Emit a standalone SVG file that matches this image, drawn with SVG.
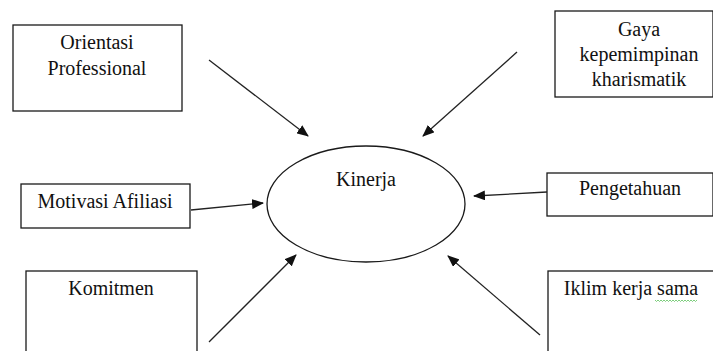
<svg xmlns="http://www.w3.org/2000/svg" width="713" height="351" viewBox="0 0 713 351">
  <style>
    .box { fill: #fff; stroke: #1a1a1a; stroke-width: 1.3; }
    .lbl { font-family: "Liberation Serif", "Times New Roman", serif; font-size: 20px; fill: #111; text-anchor: middle; }
    .con { stroke: #222; stroke-width: 1.3; fill: none; marker-end: url(#head); }
  </style>
  <defs>
    <marker id="head" viewBox="0 0 12 10" refX="11" refY="5" markerWidth="12" markerHeight="10" markerUnits="userSpaceOnUse" orient="auto">
      <path d="M0,0 L12,5 L0,10 Z" fill="#111"/>
    </marker>
  </defs>
  <rect width="713" height="351" fill="#fff"/>

  <g id="kinerja">
    <ellipse cx="366" cy="204" rx="99" ry="58" fill="#fff" stroke="#1a1a1a" stroke-width="1.3"/>
    <text class="lbl" x="366" y="186">Kinerja</text>
  </g>

  <g id="orientasi">
    <rect class="box" x="13" y="25" width="169" height="86"/>
    <text class="lbl" x="97" y="49">Orientasi</text>
    <text class="lbl" x="97" y="75">Professional</text>
  </g>

  <g id="gaya">
    <rect class="box" x="555" y="11" width="158" height="86"/>
    <text class="lbl" x="639" y="36">Gaya</text>
    <text class="lbl" x="639" y="61">kepemimpinan</text>
    <text class="lbl" x="639" y="86">kharismatik</text>
  </g>

  <g id="motivasi">
    <rect class="box" x="21" y="184" width="169" height="44"/>
    <text class="lbl" x="105" y="208">Motivasi Afiliasi</text>
  </g>

  <g id="pengetahuan">
    <rect class="box" x="547" y="173" width="166" height="43"/>
    <text class="lbl" x="630" y="195">Pengetahuan</text>
  </g>

  <g id="komitmen">
    <rect class="box" x="26" y="271" width="171" height="90"/>
    <text class="lbl" x="111" y="295">Komitmen</text>
  </g>

  <g id="iklim">
    <rect class="box" x="548" y="271" width="170" height="90"/>
    <text class="lbl" x="631" y="295">Iklim kerja sama</text>
    <path d="M655,300 l1.5,1.5 l1.5,-1.5 l1.5,1.5 l1.5,-1.5 l1.5,1.5 l1.5,-1.5 l1.5,1.5 l1.5,-1.5 l1.5,1.5 l1.5,-1.5 l1.5,1.5 l1.5,-1.5 l1.5,1.5 l1.5,-1.5 l1.5,1.5 l1.5,-1.5 l1.5,1.5 l1.5,-1.5 l1.5,1.5 l1.5,-1.5 l1.5,1.5 l1.5,-1.5 l1.5,1.5 l1.5,-1.5 l1.5,1.5 l1.5,-1.5 l1.5,1.5 l1.5,-1.5" fill="none" stroke="#5cc25c" stroke-width="0.8"/>
  </g>

  <g id="connectors">
    <line class="con" x1="209" y1="60" x2="308" y2="136"/>
    <line class="con" x1="517" y1="52" x2="423" y2="136"/>
    <line class="con" x1="191" y1="210" x2="263" y2="203"/>
    <line class="con" x1="547" y1="192" x2="474" y2="196"/>
    <line class="con" x1="540" y1="335" x2="448" y2="256"/>
    <line class="con" x1="209" y1="342" x2="296" y2="255"/>
  </g>
</svg>
